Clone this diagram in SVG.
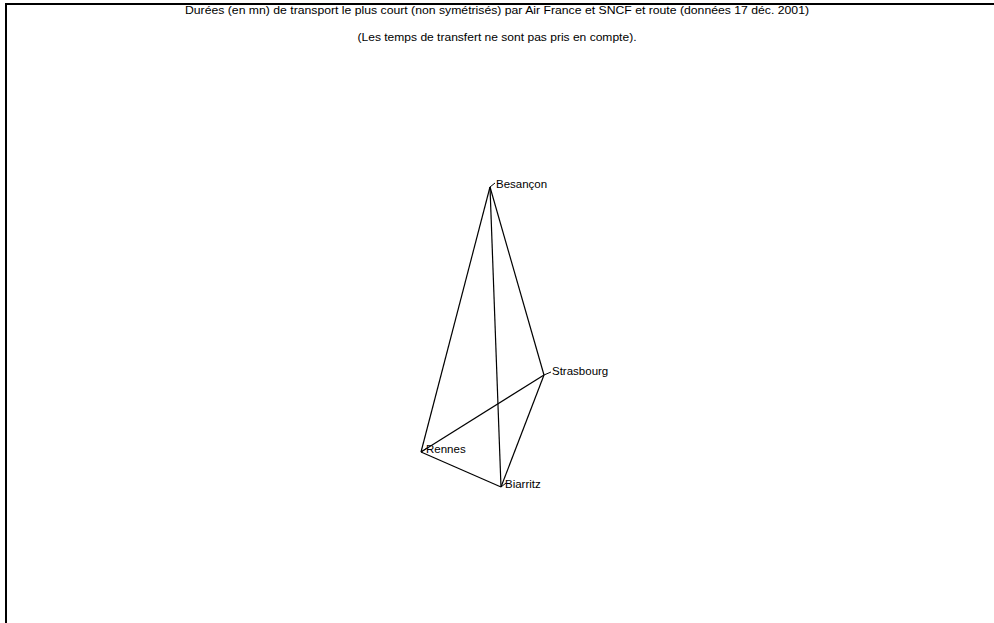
<svg xmlns="http://www.w3.org/2000/svg" width="994" height="623" viewBox="0 0 994 623">
<style>
.t{font-family:"Liberation Sans",Arial,sans-serif;font-size:11px;fill:#000}
.lbl{font-family:"Liberation Sans",Arial,sans-serif;font-size:11.5px;fill:#000}
.e{stroke:#000;stroke-width:1.2;fill:none}
.tick{stroke:#000;stroke-width:1;fill:none}
</style>
<rect width="994" height="623" fill="#fff"/>
<path d="M5,4 H994 M6,3 V623" stroke="#000" stroke-width="2" fill="none"/>
<text class="t" x="497" y="14" text-anchor="middle" textLength="624" lengthAdjust="spacingAndGlyphs">Durées (en mn) de transport le plus court (non symétrisés) par Air France et SNCF et route (données 17 déc. 2001)</text>
<text class="t" x="497" y="41" text-anchor="middle" textLength="279" lengthAdjust="spacingAndGlyphs">(Les temps de transfert ne sont pas pris en compte).</text>
<g id="connectors">
<line class="e" x1="490" y1="187" x2="421" y2="452"/>
<line class="e" x1="490" y1="187" x2="501" y2="487"/>
<line class="e" x1="490" y1="187" x2="544" y2="375"/>
<line class="e" x1="544" y1="375" x2="421" y2="452"/>
<line class="e" x1="544" y1="375" x2="501" y2="487"/>
<line class="e" x1="421" y1="452" x2="501" y2="487"/>
</g>
<g id="besancon">
<path class="tick" d="M490,187 L495,183"/>
<text class="lbl" x="496" y="188">Besançon</text>
</g>
<g id="strasbourg">
<path class="tick" d="M544,375 L551,372"/>
<text class="lbl" x="552" y="375">Strasbourg</text>
</g>
<g id="rennes">
<path class="tick" d="M421,452 L427,448"/>
<text class="lbl" x="426" y="453">Rennes</text>
</g>
<g id="biarritz">
<path class="tick" d="M501,487 L506,483"/>
<text class="lbl" x="505" y="488">Biarritz</text>
</g>
</svg>
